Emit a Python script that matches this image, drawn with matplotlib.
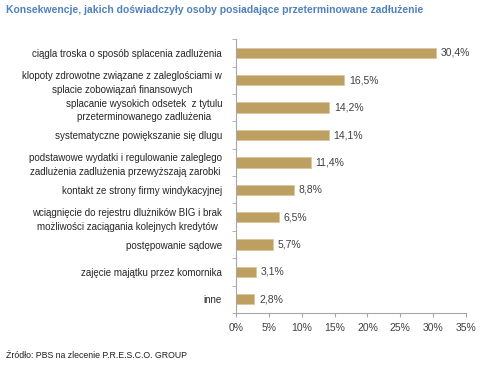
import matplotlib.pyplot as plt
import numpy as np

plt.rcParams['font.family'] = ['Liberation Sans Narrow', 'Liberation Sans', 'DejaVu Sans']

# data (top to bottom)
labels = [
    "ciągla troska o sposób splacenia zadlużenia",
    "klopoty zdrowotne związane z zaleglościami w\nsplacie zobowiązań finansowych",
    "splacanie wysokich odsetek  z tytulu\nprzeterminowanego zadlużenia",
    "systematyczne powiększanie się dlugu",
    "podstawowe wydatki i regulowanie zaleglego\nzadlużenia zadlużenia przewyższają zarobki",
    "kontakt ze strony firmy windykacyjnej",
    "wciągnięcie do rejestru dlużników BIG i brak\nmożliwości zaciągania kolejnych kredytów",
    "postępowanie sądowe",
    "zajęcie majątku przez komornika",
    "inne",
]
values = [30.4, 16.5, 14.2, 14.1, 11.4, 8.8, 6.5, 5.7, 3.1, 2.8]
xticks = [0, 5, 10, 15, 20, 25, 30, 35]

title = "Konsekwencje, jakich doświadczyły osoby posiadające przeterminowane zadłużenie"
source = "Źródło: PBS na zlecenie P.R.E.S.C.O. GROUP"

bar_color = "#BE9F62"
text_color = "#404040"
grey = "#A6A6A6"

fig = plt.figure(figsize=(4.83, 3.68), dpi=100)
ax = fig.add_axes([0.4886, 0.1495, 0.4762, 0.744])

y = np.arange(len(values))[::-1]
ax.barh(y, values, height=0.38, color=bar_color, edgecolor="#D9C49A", linewidth=0.5)

for yi, v in zip(y, values):
    ax.text(v + 0.7, yi, f"{v:.1f}%".replace(".", ","), va="center", ha="left",
            fontsize=7.5, color=text_color)

ax.set_xlim(0, 35)
ax.set_ylim(-0.5, len(values) - 0.5)
ax.set_xticks(xticks)
ax.set_xticklabels([f"{t}%" for t in xticks], fontsize=7.5, color=text_color)
ax.set_yticks(y)
ax.set_yticklabels(labels, fontsize=7, color="#262626", multialignment="center",
                   linespacing=1.45)
ax.tick_params(axis="y", length=0, pad=10)
ax.set_yticks(np.arange(-0.5, len(values), 1), minor=True)
ax.tick_params(axis="y", which="minor", length=3, color=grey)
ax.tick_params(axis="x", length=3, color=grey, pad=4)

for s in ["top", "right"]:
    ax.spines[s].set_visible(False)
for s in ["left", "bottom"]:
    ax.spines[s].set_color(grey)
    ax.spines[s].set_linewidth(0.8)

fig.text(0.012, 0.972, title, fontsize=7.5, fontweight="bold", color="#4F81BD",
         ha="left", va="center")
fig.text(0.012, 0.035, source, fontsize=6.3, color="#1F1F1F", ha="left", va="center")

fig.savefig("out.png", dpi=100)
